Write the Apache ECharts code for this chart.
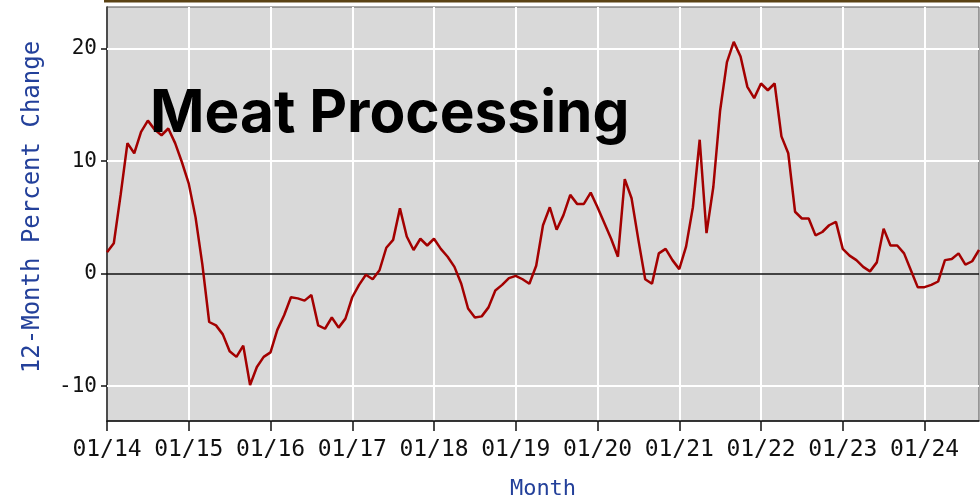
<!DOCTYPE html>
<html>
<head>
<meta charset="utf-8">
<script src="https://cdn.jsdelivr.net/npm/echarts@6/dist/echarts.min.js"></script>
<style>
  html, body { margin: 0; padding: 0; background: #fff; }
  #chart { width: 980px; height: 501px; }
</style>
</head>
<body>
<div id="chart"></div>
<script>
// 12-month percent change, monthly, Jan 2014 .. Sep 2024
const pctChange = [
  1.9, 2.7, 7.0, 11.6, 10.7, 12.6, 13.6, 12.8, 12.3, 12.9, 11.6, 9.9,
  8.0, 5.0, 0.8, -4.3, -4.6, -5.4, -6.9, -7.4, -6.4, -9.9, -8.3, -7.4,
  -7.0, -5.0, -3.7, -2.1, -2.2, -2.4, -1.9, -4.6, -4.9, -3.9, -4.8, -4.0,
  -2.1, -1.0, -0.1, -0.5, 0.3, 2.3, 3.0, 5.8, 3.3, 2.1, 3.1, 2.5,
  3.1, 2.2, 1.5, 0.6, -0.9, -3.1, -3.9, -3.8, -3.0, -1.5, -1.0, -0.4,
  -0.2, -0.5, -0.9, 0.7, 4.3, 5.9, 3.9, 5.2, 7.0, 6.2, 6.2, 7.2,
  5.9, 4.5, 3.1, 1.5, 8.4, 6.7, 3.0, -0.5, -0.9, 1.8, 2.2, 1.2,
  0.4, 2.4, 5.9, 11.9, 3.6, 7.7, 14.5, 18.8, 20.6, 19.3, 16.6, 15.6,
  16.9, 16.3, 16.9, 12.2, 10.7, 5.5, 4.9, 4.9, 3.4, 3.7, 4.3, 4.6,
  2.2, 1.6, 1.2, 0.6, 0.2, 1.0, 4.0, 2.5, 2.5, 1.8, 0.3, -1.2,
  -1.2, -1.0, -0.7, 1.2, 1.3, 1.8, 0.8, 1.1, 2.1
];
const startYear = 14;
const yTicks = [-10, 0, 10, 20];
const gridValues = [-10, 10, 20];

// month labels "MM/YY"
const months = pctChange.map((_, i) => {
  const m = (i % 12) + 1;
  const y = startYear + Math.floor(i / 12);
  return (m < 10 ? "0" + m : "" + m) + "/" + y;
});

const monoFont = "DejaVu Sans Mono";
const axisBlue = "#23409a";

const chart = echarts.init(document.getElementById("chart"));

chart.setOption({
  backgroundColor: "#fff",
  animation: false,
  title: {
    text: "Meat Processing",
    left: 145,
    top: 80,
    textStyle: {
      fontFamily: "Inter",
      fontWeight: "bold",
      fontSize: 58.5,
      color: "#000",
    },
  },
  graphic: [
    {
      type: "rect",
      shape: { x: 104, y: 0, width: 876, height: 2.5 },
      style: { fill: "#5a4214" },
      silent: true,
    },
  ],
  grid: {
    left: 107,
    right: 1,
    top: 7,
    bottom: 80,
    outerBoundsMode: "none",
    show: true,
    backgroundColor: "#d9d9d9",
    borderColor: "#555",
    borderWidth: 1,
  },
  xAxis: {
    type: "category",
    data: months,
    boundaryGap: false,
    name: "Month",
    nameLocation: "middle",
    nameGap: 57,
    nameTextStyle: { fontFamily: monoFont, fontSize: 22, color: axisBlue },
    axisLine: { onZero: false, lineStyle: { color: "#111", width: 1.5 } },
    axisTick: { interval: 11, length: 10, lineStyle: { color: "#111", width: 1.5 } },
    axisLabel: {
      interval: 11,
      margin: 18,
      fontFamily: monoFont,
      fontSize: 23,
      color: "#111",
    },
    splitLine: { show: true, interval: 11, lineStyle: { color: "#fff", width: 2 } },
  },
  yAxis: {
    type: "value",
    min: -13.1,
    max: 23.7,
    name: "12-Month Percent Change",
    nameLocation: "middle",
    nameGap: 62,
    nameTextStyle: { fontFamily: monoFont, fontSize: 24, color: axisBlue, padding: [0, 0, 0, 14] },
    axisLine: { show: true, lineStyle: { color: "#111", width: 1.5 } },
    axisTick: { show: true, customValues: yTicks, length: 6, lineStyle: { color: "#111", width: 1.5 } },
    axisLabel: {
      customValues: yTicks,
      margin: 10,
      fontFamily: monoFont,
      fontSize: 21,
      color: "#111",
    },
    splitLine: { show: false },
  },
  series: [
    {
      type: "line",
      data: pctChange,
      showSymbol: false,
      z: 3,
      lineStyle: { color: "#a30000", width: 2.5 },
      markLine: {
        silent: true,
        symbol: "none",
        z: 1,
        label: { show: false },
        data: gridValues
          .map((v) => ({ yAxis: v, lineStyle: { color: "#fff", width: 2, type: "solid" } }))
          .concat([{ yAxis: 0, lineStyle: { color: "#111", width: 1.5, type: "solid" } }]),
      },
    },
  ],
});
</script>
</body>
</html>
